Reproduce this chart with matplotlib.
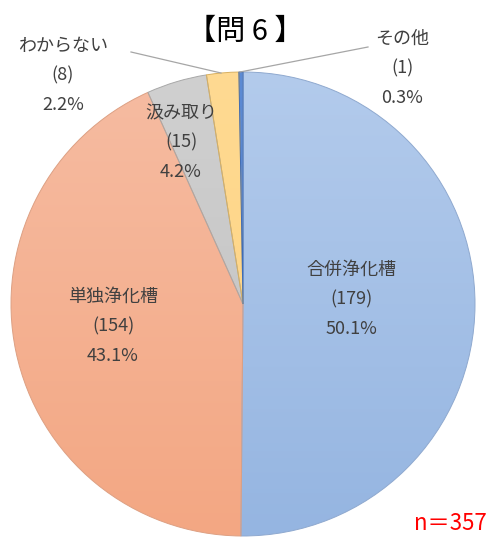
import numpy as np
import matplotlib.pyplot as plt
from matplotlib.colors import LinearSegmentedColormap

plt.rcParams['font.family'] = ['Noto Sans CJK JP', 'DejaVu Sans']

# 浄化槽の種類（時計回り、12時の位置から）
labels = ['合併浄化槽', '単独浄化槽', '汲み取り', 'わからない', 'その他']
counts = [179, 154, 15, 8, 1]
percents = ['50.1%', '43.1%', '4.2%', '2.2%', '0.3%']
n_total = 357

# slice fills: (top colour, bottom colour)
fills = [('#b3cbec', '#95b5e1'),
         ('#f6bca2', '#f3a783'),
         ('#d0d0d0', '#c0c0c0'),
         ('#ffda92', '#fdd280'),
         ('#5d8bd4', '#4a78c6')]
edges = ['#8fa9cf', '#dda083', '#a8a8a8', '#d8b060', '#3f6cb5']

W, H = 490, 541
fig = plt.figure(figsize=(W / 100, H / 100), dpi=100)
ax = fig.add_axes([0, 0, 1, 1])

cx, cy, r = 243, H - 304, 232

wedges, _ = ax.pie(counts, startangle=90, counterclock=False,
                   center=(cx, cy), radius=r, frame=True,
                   wedgeprops=dict(linewidth=0.7))
ax.set_xlim(0, W)
ax.set_ylim(0, H)
ax.axis('off')

grad = np.linspace(0, 1, 256).reshape(-1, 1)
for w, (c_top, c_bot), ec in zip(wedges, fills, edges):
    w.set_facecolor('none')
    w.set_edgecolor(ec)
    w.set_zorder(3)
    cmap = LinearSegmentedColormap.from_list('g', [c_top, c_bot])
    im = ax.imshow(grad, cmap=cmap, aspect='auto', origin='upper',
                   extent=(cx - r, cx + r, cy - r, cy + r), zorder=2)
    im.set_clip_path(w)

txt = '#404040'
fs = 13
# label positions (x, first-line y) in pixels from top-left
label_pos = [(351, 270), (113, 297), (181, 113), (63, 46), (402, 39)]
for (x, y), lab, c, p in zip(label_pos, labels, counts, percents):
    for k, s in enumerate([lab, f'({c})', p]):
        ax.text(x, H - (y + 29.5 * k), s, ha='center', va='center',
                fontsize=fs, color=txt, zorder=5)

# leader lines for the small slices
ax.plot([131, 221], [H - 52, H - 73], color='#a6a6a6', lw=0.9, zorder=4)
ax.plot([368, 240], [H - 47, H - 72], color='#a6a6a6', lw=0.9, zorder=4)

ax.text(245, H - 32, '【問 6 】', ha='center', va='center',
        fontsize=21, color='black', zorder=5)
ax.text(487, H - 524, f'n＝{n_total}', ha='right', va='center',
        fontsize=16, color='#ff0000', zorder=5)

fig.savefig('out.png', dpi=100)
